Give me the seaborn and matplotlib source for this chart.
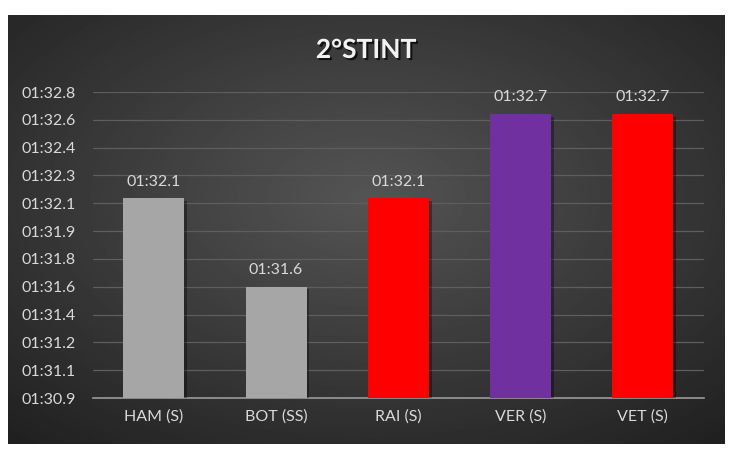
import numpy as np
import pandas as pd
import seaborn as sns
import matplotlib.pyplot as plt
import matplotlib.patheffects as pe
from matplotlib.ticker import FixedLocator, FuncFormatter

# dati del grafico (tempi sul giro in secondi)
piloti = ['HAM (S)', 'BOT (SS)', 'RAI (S)', 'VER (S)', 'VET (S)']
tempi = [92.134, 91.585, 92.134, 92.656, 92.656]
colori = ['#a6a6a6', '#a6a6a6', '#ff0000', '#7030a0', '#ff0000']
titolo = '2°STINT'

# Excel usa un passo di 0.000002 giorni = 0.1728 s
passo = 0.1728
tick_y = [k * passo for k in range(526, 538)]

def fmt_tempo(s, pos=None):
    m = int(s // 60)
    r = s - 60 * m
    return '%02d:%04.1f' % (m, r)

df = pd.DataFrame({'pilota': piloti, 'tempo': tempi})

sns.set_style('dark')
plt.rcParams['font.family'] = ['Lato', 'DejaVu Sans']

fig = plt.figure(figsize=(7.38, 4.62), dpi=100)
fig.patch.set_facecolor('white')

# sfondo a gradiente radiale
bg = fig.add_axes([8 / 738, 18 / 462, 717 / 738, 429 / 462])
xx, yy = np.meshgrid(np.linspace(-1, 1, 400), np.linspace(-1, 1, 300))
rr = np.sqrt(xx ** 2 + (yy + 0.15) ** 2) / np.sqrt(2)
grad = 0.33 - 0.19 * rr
bg.imshow(grad, cmap='gray', vmin=0, vmax=1, aspect='auto', extent=[0, 1, 0, 1])
bg.set_axis_off()

ax = fig.add_axes([92.7 / 738, 64 / 462, 611.3 / 738, 306 / 462])
ax.patch.set_alpha(0)
sns.barplot(data=df, x='pilota', y='tempo', hue='pilota', palette=colori,
            width=0.5, legend=False, saturation=1, linewidth=0, ax=ax, zorder=3)

ax.set_ylim(tick_y[0], tick_y[-1])
ax.yaxis.set_major_locator(FixedLocator(tick_y))
ax.yaxis.set_major_formatter(FuncFormatter(fmt_tempo))
ax.grid(axis='y', color='#5e5e5e', linewidth=0.9, zorder=0)
ax.grid(axis='x', visible=False)
for s in ['top', 'right', 'left']:
    ax.spines[s].set_visible(False)
ax.spines['bottom'].set_color('#9a9a9a')
ax.spines['bottom'].set_linewidth(1.2)
ax.tick_params(axis='both', length=0, colors='#d9d9d9', labelsize=11.5)
ax.tick_params(axis='y', pad=12)
ax.tick_params(axis='x', pad=8)
ax.set_xlabel('')
ax.set_ylabel('')

for p, t in zip(ax.patches, tempi):
    p.set_path_effects([pe.SimplePatchShadow(offset=(2, -2), shadow_rgbFace='black', alpha=0.35),
                        pe.Normal()])
    ax.text(p.get_x() + p.get_width() / 2, t + 0.06, fmt_tempo(t),
            ha='center', va='bottom', color='#d9d9d9', fontsize=11.5)

# titolo con ombra
fig.text(366 / 738, 1 - 50 / 462, titolo, ha='center', va='center',
         fontsize=19, fontweight='bold', color='#f2f2f2',
         path_effects=[pe.SimplePatchShadow(offset=(1.5, -1.5), shadow_rgbFace='black', alpha=0.7),
                       pe.Normal()])

fig.savefig('out.png', dpi=100, facecolor='white')
